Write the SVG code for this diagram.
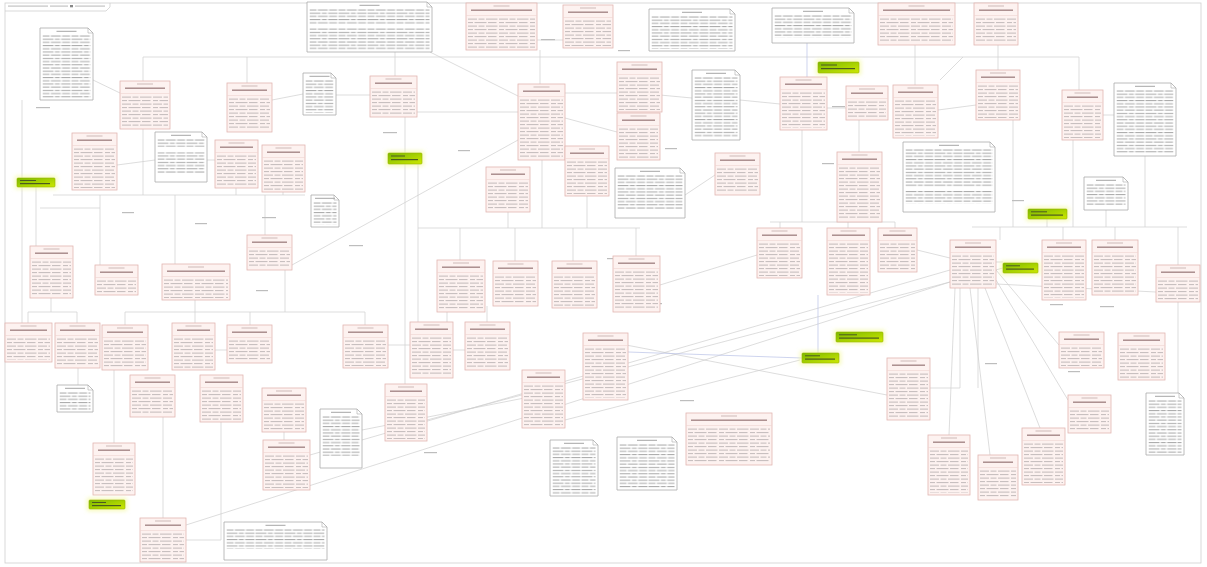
<svg xmlns="http://www.w3.org/2000/svg" width="1207" height="567" viewBox="0 0 1207 567">
<style>
  .rb{fill:#fdf2f0;stroke:#e2b6b1;stroke-width:.8}
  .st{fill:#cdb9b7}
  .nm{fill:#a58787}
  .dv{stroke:#eed4d0;stroke-width:.6}
  .nb{fill:#fff;stroke:#ababab;stroke-width:.8}
  .nf{fill:none;stroke:#ababab;stroke-width:.6}
  .nt{fill:#a6a6a6}
  .gb{fill:url(#gg);stroke:#95b400;stroke-width:.6}
  .gh{fill:#f4f9a0;opacity:.75}
  .gt{fill:#4c5a20}
  .cn path{fill:none;stroke:#cfcfcf;stroke-width:.7}
  .cn path.bl{stroke:#b9c2e6}
  .lb rect{fill:#bdbdbd}
  .fr{fill:none;stroke:#cfcfcf;stroke-width:.8}
</style>
<defs>
  <pattern id="tq" x="2" y="15" width="31" height="7" patternUnits="userSpaceOnUse">
    <g fill="#c2baba">
      <rect x="0" y=".6" width="9" height="1"/><rect x="10.5" y=".6" width="6" height="1"/><rect x="18" y=".6" width="11.5" height="1"/>
      <rect x="0" y="4.1" width="5" height="1"/><rect x="6.5" y="4.1" width="12" height="1"/><rect x="20" y="4.1" width="8.5" height="1"/>
    </g>
  </pattern>
  <pattern id="tn" x="2.5" y="7" width="29" height="6.4" patternUnits="userSpaceOnUse">
    <g fill="#a9a9a9">
      <rect x="0" y=".5" width="7" height="1"/><rect x="8.3" y=".5" width="10" height="1"/><rect x="19.6" y=".5" width="8" height="1"/>
      <rect x="0" y="3.7" width="11" height="1"/><rect x="12.3" y="3.7" width="5" height="1"/><rect x="18.6" y="3.7" width="9.4" height="1"/>
    </g>
  </pattern>
  <linearGradient id="gg" x1="0" y1="0" x2="1" y2="1">
    <stop offset="0" stop-color="#7cb800"/>
    <stop offset="1" stop-color="#cde800"/>
  </linearGradient>
  <filter id="gl" x="-40%" y="-100%" width="180%" height="300%"><feGaussianBlur stdDeviation="2.2"/></filter>
</defs>

<rect width="1207" height="567" fill="#fff"/>

<!-- diagram frame and title tab -->
<g id="frame">
  <rect class="fr" x="5" y="3" width="1196" height="560"/>
  <path class="fr" d="M5,11H106L110,7V3"/>
  <rect x="8" y="5.5" width="40" height="1.2" fill="#c4c4c4"/>
  <rect x="50" y="5.5" width="18" height="1.2" fill="#c4c4c4"/>
  <rect x="70" y="5" width="3" height="2.3" fill="#888"/>
  <rect x="75" y="5.5" width="30" height="1.2" fill="#c4c4c4"/>
</g>

<!-- relationships -->
<g class="cn">
  <path d="M143,81V57H1079V90"/>
  <path d="M247,57V83"/>
  <path d="M395,52V76"/>
  <path d="M540,50V84"/>
  <path d="M963,57L940,80"/>
  <path d="M93,80L120,93"/>
  <path d="M272,100L303,94"/>
  <path d="M430,52L518,96"/>
  <path d="M417,112H518"/>
  <path d="M537,40H563"/>
  <path d="M565,93H617"/>
  <path d="M565,118L617,132"/>
  <path d="M660,95L692,98"/>
  <path d="M740,100L780,104"/>
  <path d="M827,108H846"/>
  <path class="bl" d="M807,43V77"/>
  <path d="M915,45V85"/>
  <path d="M998,45V70"/>
  <path d="M938,110L976,105"/>
  <path d="M1103,115H1114"/>
  <path d="M336,95H370"/>
  <path d="M22,100V323"/>
  <path d="M36,187V246"/>
  <path d="M53,195H305"/>
  <path d="M100,195V265"/>
  <path d="M143,129V195"/>
  <path d="M175,195V264"/>
  <path d="M236,188V195"/>
  <path d="M283,192V195"/>
  <path d="M265,195V235"/>
  <path d="M117,165L155,160"/>
  <path d="M40,208H100"/>
  <path d="M207,160H215"/>
  <path d="M51,298V312"/>
  <path d="M28,312H77"/>
  <path d="M28,312V323"/>
  <path d="M77,312V323"/>
  <path d="M125,312H365"/>
  <path d="M125,312V325"/>
  <path d="M195,300V323"/>
  <path d="M250,312V325"/>
  <path d="M365,312V325"/>
  <path d="M285,270V312"/>
  <path d="M215,350H227"/>
  <path d="M78,368V385"/>
  <path d="M114,370V443"/>
  <path d="M163,417V518"/>
  <path d="M221,422V540H186"/>
  <path d="M284,432V440"/>
  <path d="M418,164V322"/>
  <path d="M405,117V384"/>
  <path d="M418,228H640"/>
  <path d="M460,228V260"/>
  <path d="M515,228V261"/>
  <path d="M573,228V261"/>
  <path d="M636,228V256"/>
  <path d="M542,160V228"/>
  <path d="M508,212V228"/>
  <path d="M587,196V228"/>
  <path d="M447,312V322"/>
  <path d="M487,306V322"/>
  <path d="M453,350H465"/>
  <path d="M388,345H410"/>
  <path d="M292,265L518,140"/>
  <path d="M802,130V222"/>
  <path d="M770,222H895"/>
  <path d="M780,222V228"/>
  <path d="M848,222V228"/>
  <path d="M895,222V228"/>
  <path d="M859,120V152"/>
  <path d="M685,195L715,175"/>
  <path d="M660,285L757,255"/>
  <path d="M917,250L950,258"/>
  <path d="M996,262H1003"/>
  <path d="M1013,120V227"/>
  <path d="M972,227H1187"/>
  <path d="M1000,227V240"/>
  <path d="M1063,227V240"/>
  <path d="M1115,227V240"/>
  <path d="M1178,227V265"/>
  <path d="M1047,219V227"/>
  <path d="M1073,140V227"/>
  <path d="M1106,210V227"/>
  <path d="M1145,156V227"/>
  <path d="M960,288V388"/>
  <path d="M978,288V388"/>
  <path d="M930,388H960"/>
  <path d="M985,288L1040,428"/>
  <path d="M970,288L990,455"/>
  <path d="M955,288L949,435"/>
  <path d="M996,280L1068,400"/>
  <path d="M996,270L1059,345"/>
  <path d="M996,284L1156,292"/>
  <path d="M1178,302V393"/>
  <path d="M186,525L950,282"/>
  <path d="M310,455L950,270"/>
  <path d="M427,420L1003,268"/>
  <path d="M362,430L565,390"/>
  <path d="M600,340L887,395"/>
  <path d="M565,420L800,360"/>
  <path class="bl" d="M818,295V353"/>
  <path class="bl" d="M628,352L802,358"/>
</g>

<!-- relationship labels -->
<g class="lb">
  <rect x="36" y="107" width="14" height="1.2"/>
  <rect x="122" y="212" width="12" height="1.2"/>
  <rect x="262" y="217" width="14" height="1.2"/>
  <rect x="195" y="223" width="12" height="1.2"/>
  <rect x="383" y="132" width="14" height="1.2"/>
  <rect x="458" y="150" width="12" height="1.2"/>
  <rect x="541" y="39" width="14" height="1.2"/>
  <rect x="618" y="50" width="12" height="1.2"/>
  <rect x="832" y="106" width="13" height="1.2"/>
  <rect x="665" y="148" width="12" height="1.2"/>
  <rect x="822" y="163" width="12" height="1.2"/>
  <rect x="648" y="303" width="14" height="1.2"/>
  <rect x="973" y="177" width="12" height="1.2"/>
  <rect x="1012" y="200" width="12" height="1.2"/>
  <rect x="1050" y="304" width="13" height="1.2"/>
  <rect x="1100" y="306" width="14" height="1.2"/>
  <rect x="985" y="363" width="12" height="1.2"/>
  <rect x="1068" y="371" width="12" height="1.2"/>
  <rect x="424" y="452" width="13" height="1.2"/>
  <rect x="349" y="245" width="14" height="1.2"/>
  <rect x="607" y="258" width="12" height="1.2"/>
  <rect x="26" y="327" width="12" height="1.2"/>
  <rect x="256" y="290" width="12" height="1.2"/>
  <rect x="680" y="400" width="14" height="1.2"/>
  <rect x="905" y="385" width="12" height="1.2"/>
</g>

<!-- requirements -->
<g id="r01" transform="translate(120,81)"><rect class="rb" width="50" height="48"/><rect class="st" x="17" y="2.5" width="16" height="1"/><rect class="nm" x="5" y="6.5" width="40" height="1.4"/><path class="dv" d="M0,12.5H50"/><rect x="2" y="15" width="46" height="31" fill="url(#tq)"/></g>
<g id="r02" transform="translate(227,83)"><rect class="rb" width="45" height="49"/><rect class="st" x="14.5" y="2.5" width="16" height="1"/><rect class="nm" x="5" y="6.5" width="35" height="1.4"/><path class="dv" d="M0,12.5H45"/><rect x="2" y="15" width="41" height="32" fill="url(#tq)"/></g>
<g id="r03" transform="translate(466,3)"><rect class="rb" width="71" height="47"/><rect class="st" x="27.5" y="2.5" width="16" height="1"/><rect class="nm" x="5" y="6.5" width="61" height="1.4"/><path class="dv" d="M0,12.5H71"/><rect x="2" y="15" width="67" height="30" fill="url(#tq)"/></g>
<g id="r04" transform="translate(563,5)"><rect class="rb" width="50" height="43"/><rect class="st" x="17" y="2.5" width="16" height="1"/><rect class="nm" x="5" y="6.5" width="40" height="1.4"/><path class="dv" d="M0,12.5H50"/><rect x="2" y="15" width="46" height="26" fill="url(#tq)"/></g>
<g id="r05" transform="translate(370,76)"><rect class="rb" width="47" height="41"/><rect class="st" x="15.5" y="2.5" width="16" height="1"/><rect class="nm" x="5" y="6.5" width="37" height="1.4"/><path class="dv" d="M0,12.5H47"/><rect x="2" y="15" width="43" height="24" fill="url(#tq)"/></g>
<g id="r06" transform="translate(518,84)"><rect class="rb" width="47" height="76"/><rect class="st" x="15.5" y="2.5" width="16" height="1"/><rect class="nm" x="5" y="6.5" width="37" height="1.4"/><path class="dv" d="M0,12.5H47"/><rect x="2" y="15" width="43" height="59" fill="url(#tq)"/></g>
<g id="r07" transform="translate(617,62)"><rect class="rb" width="45" height="50"/><rect class="st" x="14.5" y="2.5" width="16" height="1"/><rect class="nm" x="5" y="6.5" width="35" height="1.4"/><path class="dv" d="M0,12.5H45"/><rect x="2" y="15" width="41" height="33" fill="url(#tq)"/></g>
<g id="r08" transform="translate(617,113)"><rect class="rb" width="43" height="47"/><rect class="st" x="13.5" y="2.5" width="16" height="1"/><rect class="nm" x="5" y="6.5" width="33" height="1.4"/><path class="dv" d="M0,12.5H43"/><rect x="2" y="15" width="39" height="30" fill="url(#tq)"/></g>
<g id="r09" transform="translate(780,77)"><rect class="rb" width="47" height="53"/><rect class="st" x="15.5" y="2.5" width="16" height="1"/><rect class="nm" x="5" y="6.5" width="37" height="1.4"/><path class="dv" d="M0,12.5H47"/><rect x="2" y="15" width="43" height="36" fill="url(#tq)"/></g>
<g id="r10" transform="translate(846,86)"><rect class="rb" width="42" height="34"/><rect class="st" x="13" y="2.5" width="16" height="1"/><rect class="nm" x="5" y="6.5" width="32" height="1.4"/><path class="dv" d="M0,12.5H42"/><rect x="2" y="15" width="38" height="17" fill="url(#tq)"/></g>
<g id="r11" transform="translate(893,85)"><rect class="rb" width="45" height="53"/><rect class="st" x="14.5" y="2.5" width="16" height="1"/><rect class="nm" x="5" y="6.5" width="35" height="1.4"/><path class="dv" d="M0,12.5H45"/><rect x="2" y="15" width="41" height="36" fill="url(#tq)"/></g>
<g id="r12" transform="translate(976,70)"><rect class="rb" width="44" height="50"/><rect class="st" x="14" y="2.5" width="16" height="1"/><rect class="nm" x="5" y="6.5" width="34" height="1.4"/><path class="dv" d="M0,12.5H44"/><rect x="2" y="15" width="40" height="33" fill="url(#tq)"/></g>
<g id="r13" transform="translate(1062,90)"><rect class="rb" width="41" height="50"/><rect class="st" x="12.5" y="2.5" width="16" height="1"/><rect class="nm" x="5" y="6.5" width="31" height="1.4"/><path class="dv" d="M0,12.5H41"/><rect x="2" y="15" width="37" height="33" fill="url(#tq)"/></g>
<g id="r14" transform="translate(878,3)"><rect class="rb" width="77" height="42"/><rect class="st" x="30.5" y="2.5" width="16" height="1"/><rect class="nm" x="5" y="6.5" width="67" height="1.4"/><path class="dv" d="M0,12.5H77"/><rect x="2" y="15" width="73" height="25" fill="url(#tq)"/></g>
<g id="r15" transform="translate(974,3)"><rect class="rb" width="44" height="42"/><rect class="st" x="14" y="2.5" width="16" height="1"/><rect class="nm" x="5" y="6.5" width="34" height="1.4"/><path class="dv" d="M0,12.5H44"/><rect x="2" y="15" width="40" height="25" fill="url(#tq)"/></g>
<g id="r16" transform="translate(72,133)"><rect class="rb" width="45" height="57"/><rect class="st" x="14.5" y="2.5" width="16" height="1"/><rect class="nm" x="5" y="6.5" width="35" height="1.4"/><path class="dv" d="M0,12.5H45"/><rect x="2" y="15" width="41" height="40" fill="url(#tq)"/></g>
<g id="r17" transform="translate(215,140)"><rect class="rb" width="43" height="48"/><rect class="st" x="13.5" y="2.5" width="16" height="1"/><rect class="nm" x="5" y="6.5" width="33" height="1.4"/><path class="dv" d="M0,12.5H43"/><rect x="2" y="15" width="39" height="31" fill="url(#tq)"/></g>
<g id="r18" transform="translate(262,145)"><rect class="rb" width="43" height="47"/><rect class="st" x="13.5" y="2.5" width="16" height="1"/><rect class="nm" x="5" y="6.5" width="33" height="1.4"/><path class="dv" d="M0,12.5H43"/><rect x="2" y="15" width="39" height="30" fill="url(#tq)"/></g>
<g id="r19" transform="translate(486,167)"><rect class="rb" width="44" height="45"/><rect class="st" x="14" y="2.5" width="16" height="1"/><rect class="nm" x="5" y="6.5" width="34" height="1.4"/><path class="dv" d="M0,12.5H44"/><rect x="2" y="15" width="40" height="28" fill="url(#tq)"/></g>
<g id="r20" transform="translate(565,146)"><rect class="rb" width="44" height="50"/><rect class="st" x="14" y="2.5" width="16" height="1"/><rect class="nm" x="5" y="6.5" width="34" height="1.4"/><path class="dv" d="M0,12.5H44"/><rect x="2" y="15" width="40" height="33" fill="url(#tq)"/></g>
<g id="r21" transform="translate(715,153)"><rect class="rb" width="45" height="42"/><rect class="st" x="14.5" y="2.5" width="16" height="1"/><rect class="nm" x="5" y="6.5" width="35" height="1.4"/><path class="dv" d="M0,12.5H45"/><rect x="2" y="15" width="41" height="25" fill="url(#tq)"/></g>
<g id="r22" transform="translate(837,152)"><rect class="rb" width="45" height="70"/><rect class="st" x="14.5" y="2.5" width="16" height="1"/><rect class="nm" x="5" y="6.5" width="35" height="1.4"/><path class="dv" d="M0,12.5H45"/><rect x="2" y="15" width="41" height="53" fill="url(#tq)"/></g>
<g id="r23" transform="translate(30,246)"><rect class="rb" width="43" height="52"/><rect class="st" x="13.5" y="2.5" width="16" height="1"/><rect class="nm" x="5" y="6.5" width="33" height="1.4"/><path class="dv" d="M0,12.5H43"/><rect x="2" y="15" width="39" height="35" fill="url(#tq)"/></g>
<g id="r24" transform="translate(95,265)"><rect class="rb" width="43" height="30"/><rect class="st" x="13.5" y="2.5" width="16" height="1"/><rect class="nm" x="5" y="6.5" width="33" height="1.4"/><path class="dv" d="M0,12.5H43"/><rect x="2" y="15" width="39" height="13" fill="url(#tq)"/></g>
<g id="r25" transform="translate(162,264)"><rect class="rb" width="68" height="36"/><rect class="st" x="26" y="2.5" width="16" height="1"/><rect class="nm" x="5" y="6.5" width="58" height="1.4"/><path class="dv" d="M0,12.5H68"/><rect x="2" y="15" width="64" height="19" fill="url(#tq)"/></g>
<g id="r26" transform="translate(247,235)"><rect class="rb" width="45" height="35"/><rect class="st" x="14.5" y="2.5" width="16" height="1"/><rect class="nm" x="5" y="6.5" width="35" height="1.4"/><path class="dv" d="M0,12.5H45"/><rect x="2" y="15" width="41" height="18" fill="url(#tq)"/></g>
<g id="r27" transform="translate(437,260)"><rect class="rb" width="48" height="52"/><rect class="st" x="16" y="2.5" width="16" height="1"/><rect class="nm" x="5" y="6.5" width="38" height="1.4"/><path class="dv" d="M0,12.5H48"/><rect x="2" y="15" width="44" height="35" fill="url(#tq)"/></g>
<g id="r28" transform="translate(493,261)"><rect class="rb" width="45" height="45"/><rect class="st" x="14.5" y="2.5" width="16" height="1"/><rect class="nm" x="5" y="6.5" width="35" height="1.4"/><path class="dv" d="M0,12.5H45"/><rect x="2" y="15" width="41" height="28" fill="url(#tq)"/></g>
<g id="r29" transform="translate(552,261)"><rect class="rb" width="45" height="47"/><rect class="st" x="14.5" y="2.5" width="16" height="1"/><rect class="nm" x="5" y="6.5" width="35" height="1.4"/><path class="dv" d="M0,12.5H45"/><rect x="2" y="15" width="41" height="30" fill="url(#tq)"/></g>
<g id="r30" transform="translate(613,256)"><rect class="rb" width="47" height="56"/><rect class="st" x="15.5" y="2.5" width="16" height="1"/><rect class="nm" x="5" y="6.5" width="37" height="1.4"/><path class="dv" d="M0,12.5H47"/><rect x="2" y="15" width="43" height="39" fill="url(#tq)"/></g>
<g id="r31" transform="translate(757,228)"><rect class="rb" width="45" height="50"/><rect class="st" x="14.5" y="2.5" width="16" height="1"/><rect class="nm" x="5" y="6.5" width="35" height="1.4"/><path class="dv" d="M0,12.5H45"/><rect x="2" y="15" width="41" height="33" fill="url(#tq)"/></g>
<g id="r32" transform="translate(827,228)"><rect class="rb" width="43" height="67"/><rect class="st" x="13.5" y="2.5" width="16" height="1"/><rect class="nm" x="5" y="6.5" width="33" height="1.4"/><path class="dv" d="M0,12.5H43"/><rect x="2" y="15" width="39" height="50" fill="url(#tq)"/></g>
<g id="r33" transform="translate(878,228)"><rect class="rb" width="39" height="44"/><rect class="st" x="11.5" y="2.5" width="16" height="1"/><rect class="nm" x="5" y="6.5" width="29" height="1.4"/><path class="dv" d="M0,12.5H39"/><rect x="2" y="15" width="35" height="27" fill="url(#tq)"/></g>
<g id="r34" transform="translate(950,240)"><rect class="rb" width="46" height="48"/><rect class="st" x="15" y="2.5" width="16" height="1"/><rect class="nm" x="5" y="6.5" width="36" height="1.4"/><path class="dv" d="M0,12.5H46"/><rect x="2" y="15" width="42" height="31" fill="url(#tq)"/></g>
<g id="r35" transform="translate(1042,240)"><rect class="rb" width="44" height="60"/><rect class="st" x="14" y="2.5" width="16" height="1"/><rect class="nm" x="5" y="6.5" width="34" height="1.4"/><path class="dv" d="M0,12.5H44"/><rect x="2" y="15" width="40" height="43" fill="url(#tq)"/></g>
<g id="r36" transform="translate(1092,240)"><rect class="rb" width="46" height="55"/><rect class="st" x="15" y="2.5" width="16" height="1"/><rect class="nm" x="5" y="6.5" width="36" height="1.4"/><path class="dv" d="M0,12.5H46"/><rect x="2" y="15" width="42" height="38" fill="url(#tq)"/></g>
<g id="r37" transform="translate(1156,265)"><rect class="rb" width="44" height="37"/><rect class="st" x="14" y="2.5" width="16" height="1"/><rect class="nm" x="5" y="6.5" width="34" height="1.4"/><path class="dv" d="M0,12.5H44"/><rect x="2" y="15" width="40" height="20" fill="url(#tq)"/></g>
<g id="r38" transform="translate(5,323)"><rect class="rb" width="47" height="39"/><rect class="st" x="15.5" y="2.5" width="16" height="1"/><rect class="nm" x="5" y="6.5" width="37" height="1.4"/><path class="dv" d="M0,12.5H47"/><rect x="2" y="15" width="43" height="22" fill="url(#tq)"/></g>
<g id="r39" transform="translate(55,323)"><rect class="rb" width="45" height="45"/><rect class="st" x="14.5" y="2.5" width="16" height="1"/><rect class="nm" x="5" y="6.5" width="35" height="1.4"/><path class="dv" d="M0,12.5H45"/><rect x="2" y="15" width="41" height="28" fill="url(#tq)"/></g>
<g id="r40" transform="translate(102,325)"><rect class="rb" width="46" height="45"/><rect class="st" x="15" y="2.5" width="16" height="1"/><rect class="nm" x="5" y="6.5" width="36" height="1.4"/><path class="dv" d="M0,12.5H46"/><rect x="2" y="15" width="42" height="28" fill="url(#tq)"/></g>
<g id="r41" transform="translate(172,323)"><rect class="rb" width="43" height="47"/><rect class="st" x="13.5" y="2.5" width="16" height="1"/><rect class="nm" x="5" y="6.5" width="33" height="1.4"/><path class="dv" d="M0,12.5H43"/><rect x="2" y="15" width="39" height="30" fill="url(#tq)"/></g>
<g id="r42" transform="translate(227,325)"><rect class="rb" width="45" height="38"/><rect class="st" x="14.5" y="2.5" width="16" height="1"/><rect class="nm" x="5" y="6.5" width="35" height="1.4"/><path class="dv" d="M0,12.5H45"/><rect x="2" y="15" width="41" height="21" fill="url(#tq)"/></g>
<g id="r43" transform="translate(130,375)"><rect class="rb" width="45" height="42"/><rect class="st" x="14.5" y="2.5" width="16" height="1"/><rect class="nm" x="5" y="6.5" width="35" height="1.4"/><path class="dv" d="M0,12.5H45"/><rect x="2" y="15" width="41" height="25" fill="url(#tq)"/></g>
<g id="r44" transform="translate(200,375)"><rect class="rb" width="43" height="47"/><rect class="st" x="13.5" y="2.5" width="16" height="1"/><rect class="nm" x="5" y="6.5" width="33" height="1.4"/><path class="dv" d="M0,12.5H43"/><rect x="2" y="15" width="39" height="30" fill="url(#tq)"/></g>
<g id="r45" transform="translate(262,388)"><rect class="rb" width="44" height="44"/><rect class="st" x="14" y="2.5" width="16" height="1"/><rect class="nm" x="5" y="6.5" width="34" height="1.4"/><path class="dv" d="M0,12.5H44"/><rect x="2" y="15" width="40" height="27" fill="url(#tq)"/></g>
<g id="r46" transform="translate(343,325)"><rect class="rb" width="45" height="43"/><rect class="st" x="14.5" y="2.5" width="16" height="1"/><rect class="nm" x="5" y="6.5" width="35" height="1.4"/><path class="dv" d="M0,12.5H45"/><rect x="2" y="15" width="41" height="26" fill="url(#tq)"/></g>
<g id="r47" transform="translate(410,322)"><rect class="rb" width="43" height="56"/><rect class="st" x="13.5" y="2.5" width="16" height="1"/><rect class="nm" x="5" y="6.5" width="33" height="1.4"/><path class="dv" d="M0,12.5H43"/><rect x="2" y="15" width="39" height="39" fill="url(#tq)"/></g>
<g id="r48" transform="translate(465,322)"><rect class="rb" width="45" height="48"/><rect class="st" x="14.5" y="2.5" width="16" height="1"/><rect class="nm" x="5" y="6.5" width="35" height="1.4"/><path class="dv" d="M0,12.5H45"/><rect x="2" y="15" width="41" height="31" fill="url(#tq)"/></g>
<g id="r49" transform="translate(385,384)"><rect class="rb" width="42" height="57"/><rect class="st" x="13" y="2.5" width="16" height="1"/><rect class="nm" x="5" y="6.5" width="32" height="1.4"/><path class="dv" d="M0,12.5H42"/><rect x="2" y="15" width="38" height="40" fill="url(#tq)"/></g>
<g id="r50" transform="translate(522,370)"><rect class="rb" width="43" height="58"/><rect class="st" x="13.5" y="2.5" width="16" height="1"/><rect class="nm" x="5" y="6.5" width="33" height="1.4"/><path class="dv" d="M0,12.5H43"/><rect x="2" y="15" width="39" height="41" fill="url(#tq)"/></g>
<g id="r51" transform="translate(583,333)"><rect class="rb" width="45" height="67"/><rect class="st" x="14.5" y="2.5" width="16" height="1"/><rect class="nm" x="5" y="6.5" width="35" height="1.4"/><path class="dv" d="M0,12.5H45"/><rect x="2" y="15" width="41" height="50" fill="url(#tq)"/></g>
<g id="r52" transform="translate(686,413)"><rect class="rb" width="86" height="52"/><rect class="st" x="35" y="2.5" width="16" height="1"/><rect class="nm" x="5" y="6.5" width="76" height="1.4"/><path class="dv" d="M0,12.5H86"/><rect x="2" y="15" width="82" height="35" fill="url(#tq)"/></g>
<g id="r53" transform="translate(887,358)"><rect class="rb" width="43" height="62"/><rect class="st" x="13.5" y="2.5" width="16" height="1"/><rect class="nm" x="5" y="6.5" width="33" height="1.4"/><path class="dv" d="M0,12.5H43"/><rect x="2" y="15" width="39" height="45" fill="url(#tq)"/></g>
<g id="r54" transform="translate(1059,332)"><rect class="rb" width="45" height="36"/><rect class="st" x="14.5" y="2.5" width="16" height="1"/><rect class="nm" x="5" y="6.5" width="35" height="1.4"/><path class="dv" d="M0,12.5H45"/><rect x="2" y="15" width="41" height="19" fill="url(#tq)"/></g>
<g id="r55" transform="translate(1118,333)"><rect class="rb" width="47" height="47"/><rect class="st" x="15.5" y="2.5" width="16" height="1"/><rect class="nm" x="5" y="6.5" width="37" height="1.4"/><path class="dv" d="M0,12.5H47"/><rect x="2" y="15" width="43" height="30" fill="url(#tq)"/></g>
<g id="r56" transform="translate(1068,395)"><rect class="rb" width="43" height="38"/><rect class="st" x="13.5" y="2.5" width="16" height="1"/><rect class="nm" x="5" y="6.5" width="33" height="1.4"/><path class="dv" d="M0,12.5H43"/><rect x="2" y="15" width="39" height="21" fill="url(#tq)"/></g>
<g id="r57" transform="translate(93,443)"><rect class="rb" width="42" height="52"/><rect class="st" x="13" y="2.5" width="16" height="1"/><rect class="nm" x="5" y="6.5" width="32" height="1.4"/><path class="dv" d="M0,12.5H42"/><rect x="2" y="15" width="38" height="35" fill="url(#tq)"/></g>
<g id="r58" transform="translate(140,518)"><rect class="rb" width="46" height="44"/><rect class="st" x="15" y="2.5" width="16" height="1"/><rect class="nm" x="5" y="6.5" width="36" height="1.4"/><path class="dv" d="M0,12.5H46"/><rect x="2" y="15" width="42" height="27" fill="url(#tq)"/></g>
<g id="r59" transform="translate(263,440)"><rect class="rb" width="47" height="50"/><rect class="st" x="15.5" y="2.5" width="16" height="1"/><rect class="nm" x="5" y="6.5" width="37" height="1.4"/><path class="dv" d="M0,12.5H47"/><rect x="2" y="15" width="43" height="33" fill="url(#tq)"/></g>
<g id="r60" transform="translate(928,435)"><rect class="rb" width="42" height="60"/><rect class="st" x="13" y="2.5" width="16" height="1"/><rect class="nm" x="5" y="6.5" width="32" height="1.4"/><path class="dv" d="M0,12.5H42"/><rect x="2" y="15" width="38" height="43" fill="url(#tq)"/></g>
<g id="r61" transform="translate(978,455)"><rect class="rb" width="40" height="45"/><rect class="st" x="12" y="2.5" width="16" height="1"/><rect class="nm" x="5" y="6.5" width="30" height="1.4"/><path class="dv" d="M0,12.5H40"/><rect x="2" y="15" width="36" height="28" fill="url(#tq)"/></g>
<g id="r62" transform="translate(1022,428)"><rect class="rb" width="43" height="57"/><rect class="st" x="13.5" y="2.5" width="16" height="1"/><rect class="nm" x="5" y="6.5" width="33" height="1.4"/><path class="dv" d="M0,12.5H43"/><rect x="2" y="15" width="39" height="40" fill="url(#tq)"/></g>

<!-- notes -->
<g id="n01" transform="translate(40,28)"><path class="nb" d="M0,0H48L53,5V72H0Z"/><path class="nf" d="M48,0V5H53"/><rect class="nt" x="16.5" y="2.8" width="20" height="1"/><rect x="2.5" y="7" width="48" height="63" fill="url(#tn)"/></g>
<g id="n02" transform="translate(307,2)"><path class="nb" d="M0,0H120L125,5V50H0Z"/><path class="nf" d="M120,0V5H125"/><rect class="nt" x="52.5" y="2.8" width="20" height="1"/><rect x="2.5" y="7" width="120" height="16" fill="url(#tn)"/><rect x="2.5" y="26" width="120" height="22" fill="url(#tn)"/></g>
<g id="n03" transform="translate(649,9)"><path class="nb" d="M0,0H81L86,5V42H0Z"/><path class="nf" d="M81,0V5H86"/><rect class="nt" x="33" y="2.8" width="20" height="1"/><rect x="2.5" y="7" width="81" height="33" fill="url(#tn)"/></g>
<g id="n04" transform="translate(772,8)"><path class="nb" d="M0,0H77L82,5V35H0Z"/><path class="nf" d="M77,0V5H82"/><rect class="nt" x="31" y="2.8" width="20" height="1"/><rect x="2.5" y="7" width="77" height="23" fill="url(#tn)"/></g>
<g id="n05" transform="translate(1114,83)"><path class="nb" d="M0,0H57L62,5V73H0Z"/><path class="nf" d="M57,0V5H62"/><rect class="nt" x="21" y="2.8" width="20" height="1"/><rect x="2.5" y="7" width="57" height="64" fill="url(#tn)"/></g>
<g id="n06" transform="translate(303,73)"><path class="nb" d="M0,0H28L33,5V42H0Z"/><path class="nf" d="M28,0V5H33"/><rect class="nt" x="6.5" y="2.8" width="20" height="1"/><rect x="2.5" y="7" width="28" height="33" fill="url(#tn)"/></g>
<g id="n07" transform="translate(692,70)"><path class="nb" d="M0,0H43L48,5V70H0Z"/><path class="nf" d="M43,0V5H48"/><rect class="nt" x="14" y="2.8" width="20" height="1"/><rect x="2.5" y="7" width="43" height="61" fill="url(#tn)"/></g>
<g id="n08" transform="translate(155,132)"><path class="nb" d="M0,0H47L52,5V50H0Z"/><path class="nf" d="M47,0V5H52"/><rect class="nt" x="16" y="2.8" width="20" height="1"/><rect x="2.5" y="7" width="47" height="8" fill="url(#tn)"/><rect x="2.5" y="20" width="47" height="22" fill="url(#tn)"/></g>
<g id="n09" transform="translate(311,195)"><path class="nb" d="M0,0H23L28,5V32H0Z"/><path class="nf" d="M23,0V5H28"/><rect class="nt" x="4" y="2.8" width="20" height="1"/><rect x="2.5" y="7" width="23" height="23" fill="url(#tn)"/></g>
<g id="n10" transform="translate(615,168)"><path class="nb" d="M0,0H65L70,5V50H0Z"/><path class="nf" d="M65,0V5H70"/><rect class="nt" x="25" y="2.8" width="20" height="1"/><rect x="2.5" y="7" width="65" height="34" fill="url(#tn)"/></g>
<g id="n11" transform="translate(903,142)"><path class="nb" d="M0,0H87L92,5V70H0Z"/><path class="nf" d="M87,0V5H92"/><rect class="nt" x="36" y="2.8" width="20" height="1"/><rect x="2.5" y="7" width="87" height="38" fill="url(#tn)"/><rect x="2.5" y="48" width="87" height="14" fill="url(#tn)"/></g>
<g id="n12" transform="translate(1084,177)"><path class="nb" d="M0,0H39L44,5V33H0Z"/><path class="nf" d="M39,0V5H44"/><rect class="nt" x="12" y="2.8" width="20" height="1"/><rect x="2.5" y="7" width="39" height="22" fill="url(#tn)"/></g>
<g id="n13" transform="translate(57,385)"><path class="nb" d="M0,0H31L36,5V27H0Z"/><path class="nf" d="M31,0V5H36"/><rect class="nt" x="8" y="2.8" width="20" height="1"/><rect x="2.5" y="7" width="31" height="18" fill="url(#tn)"/></g>
<g id="n14" transform="translate(320,409)"><path class="nb" d="M0,0H37L42,5V59H0Z"/><path class="nf" d="M37,0V5H42"/><rect class="nt" x="11" y="2.8" width="20" height="1"/><rect x="2.5" y="7" width="37" height="40" fill="url(#tn)"/></g>
<g id="n15" transform="translate(550,440)"><path class="nb" d="M0,0H43L48,5V56H0Z"/><path class="nf" d="M43,0V5H48"/><rect class="nt" x="14" y="2.8" width="20" height="1"/><rect x="2.5" y="7" width="43" height="47" fill="url(#tn)"/></g>
<g id="n16" transform="translate(617,437)"><path class="nb" d="M0,0H55L60,5V53H0Z"/><path class="nf" d="M55,0V5H60"/><rect class="nt" x="20" y="2.8" width="20" height="1"/><rect x="2.5" y="7" width="55" height="44" fill="url(#tn)"/></g>
<g id="n17" transform="translate(1146,393)"><path class="nb" d="M0,0H33L38,5V62H0Z"/><path class="nf" d="M33,0V5H38"/><rect class="nt" x="9" y="2.8" width="20" height="1"/><rect x="2.5" y="7" width="33" height="53" fill="url(#tn)"/></g>
<g id="n18" transform="translate(224,522)"><path class="nb" d="M0,0H98L103,5V38H0Z"/><path class="nf" d="M98,0V5H103"/><rect class="nt" x="41.5" y="2.8" width="20" height="1"/><rect x="2.5" y="7" width="98" height="20" fill="url(#tn)"/></g>

<!-- highlighted tags -->
<g id="g1" transform="translate(17,178)"><rect class="gh" x="-2" y="-2" width="42" height="13" filter="url(#gl)"/><rect class="gb" width="38" height="9" rx="1"/><rect class="gt" x="3" y="2" width="16" height="1"/><rect class="gt" x="3" y="5" width="30" height="1.2"/></g>
<g id="g2" transform="translate(388,153)"><rect class="gh" x="-2" y="-2" width="38" height="15" filter="url(#gl)"/><rect class="gb" width="34" height="11" rx="1"/><rect class="gt" x="3" y="2.5" width="14" height="1"/><rect class="gt" x="3" y="6" width="27" height="1.2"/></g>
<g id="g3" transform="translate(818,62)"><rect class="gh" x="-2" y="-2" width="45" height="15" filter="url(#gl)"/><rect class="gb" width="41" height="11" rx="1"/><rect class="gt" x="3" y="2.5" width="16" height="1"/><rect class="gt" x="3" y="6" width="34" height="1.2"/></g>
<g id="g4" transform="translate(1028,209)"><rect class="gh" x="-2" y="-2" width="43" height="14" filter="url(#gl)"/><rect class="gb" width="39" height="10" rx="1"/><rect class="gt" x="3" y="2.3" width="16" height="1"/><rect class="gt" x="3" y="5.5" width="32" height="1.2"/></g>
<g id="g5" transform="translate(1003,263)"><rect class="gh" x="-2" y="-2" width="39" height="14" filter="url(#gl)"/><rect class="gb" width="35" height="10" rx="1"/><rect class="gt" x="3" y="2.3" width="14" height="1"/><rect class="gt" x="3" y="5.5" width="28" height="1.2"/></g>
<g id="g6" transform="translate(836,332)"><rect class="gh" x="-2" y="-2" width="51" height="14" filter="url(#gl)"/><rect class="gb" width="47" height="10" rx="1"/><rect class="gt" x="3" y="2.3" width="18" height="1"/><rect class="gt" x="3" y="5.5" width="40" height="1.2"/></g>
<g id="g7" transform="translate(802,353)"><rect class="gh" x="-2" y="-2" width="41" height="14" filter="url(#gl)"/><rect class="gb" width="37" height="10" rx="1"/><rect class="gt" x="3" y="2.3" width="15" height="1"/><rect class="gt" x="3" y="5.5" width="30" height="1.2"/></g>
<g id="g8" transform="translate(89,500)"><rect class="gh" x="-2" y="-2" width="40" height="13" filter="url(#gl)"/><rect class="gb" width="36" height="9" rx="1"/><rect class="gt" x="3" y="2" width="14" height="1"/><rect class="gt" x="3" y="5" width="29" height="1.2"/></g>
</svg>
